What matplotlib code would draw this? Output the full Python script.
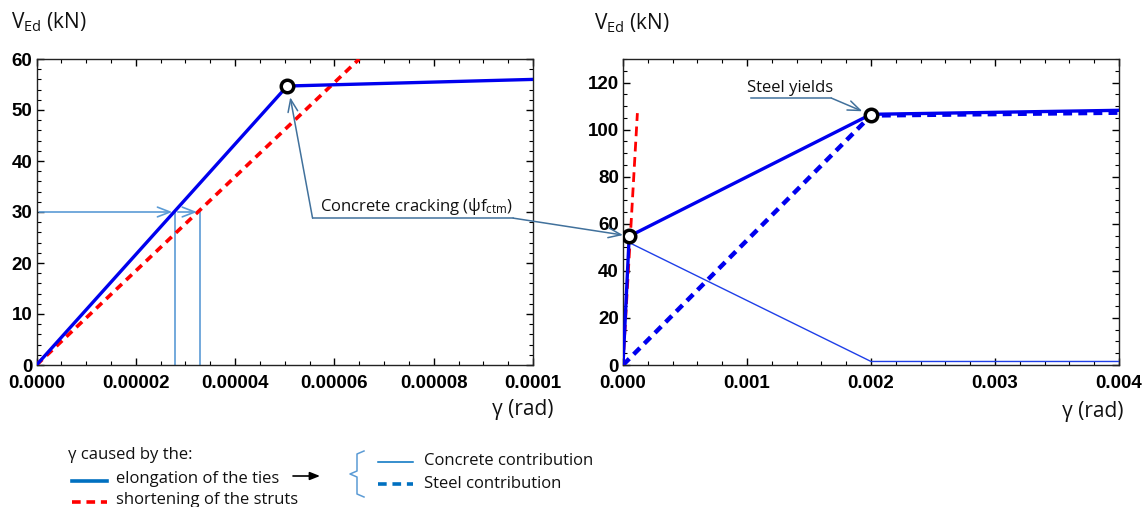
import matplotlib.pyplot as plt
from matplotlib.lines import Line2D
from matplotlib.patches import ConnectionPatch
from matplotlib.ticker import MultipleLocator

# ---- data ----
# left chart: first part of the curve, gamma up to 1e-4 rad
ties_x1 = [0.0, 0.0000505, 0.0001]
ties_y1 = [0.0, 54.7, 56.0]
struts_x1 = [0.0, 0.000065]
struts_y1 = [0.0, 60.0]
v_ref = 30.0
gam_ties_ref = 0.0000279
gam_struts_ref = 0.0000329
crack_x = 0.0000505
crack_v = 54.7

# right chart: full range, gamma up to 0.004 rad
ties_x2 = [0.0, 0.00005, 0.002, 0.004]
ties_y2 = [0.0, 54.7, 106.5, 108.2]
steel_x2 = [0.0, 0.002, 0.004]
steel_y2 = [0.0, 106.0, 107.2]
concrete_x2 = [0.0, 0.00005, 0.002, 0.004]
concrete_y2 = [0.0, 52.0, 1.5, 1.5]
struts_x2 = [0.0, 0.000116]
struts_y2 = [0.0, 107.0]
yield_x = 0.002
yield_v = 106.3

BLUE = "#0000EE"
RED = "#FF0000"
LEG_BLUE = "#0070C0"
LIGHT = "#5B9BD5"
ANN = "#41719C"

plt.rcParams["mathtext.fontset"] = "custom"
plt.rcParams["mathtext.rm"] = "Open Sans"
plt.rcParams["mathtext.it"] = "Open Sans:italic"

W, H = 1146, 507
fig = plt.figure(figsize=(W / 100, H / 100), dpi=100)


def fxy(px, py):
    return px / W, 1 - py / H


ax1 = fig.add_axes([36.5 / W, 142 / H, 496.5 / W, 306 / H])
ax2 = fig.add_axes([623 / W, 142 / H, 496 / W, 306 / H])

for ax in (ax1, ax2):
    ax.tick_params(which="both", direction="in", top=True, right=True)
    ax.tick_params(which="major", length=5, width=1)
    ax.tick_params(which="minor", length=3, width=0.8)
    ax.tick_params(axis="x", pad=7)
    ax.tick_params(axis="y", pad=3)
    for s in ax.spines.values():
        s.set_linewidth(1.0)
        s.set_color("#222222")

tick_kw = dict(fontweight="bold", family="Liberation Sans", fontsize=13.5)

# ---- left chart ----
ax1.plot(struts_x1, struts_y1, color=RED, lw=2.6, ls=(0, (2.2, 1.6)), zorder=3)
ax1.plot(ties_x1, ties_y1, color=BLUE, lw=2.4, zorder=4)
ax1.plot([crack_x], [crack_v], "o", ms=9, mfc="white", mec="black", mew=2.5, zorder=6)
ax1.annotate("", xy=(gam_ties_ref, v_ref), xytext=(0, v_ref),
             arrowprops=dict(arrowstyle="->,head_length=0.9,head_width=0.35", color=LIGHT, lw=1.2))
ax1.annotate("", xy=(gam_struts_ref, v_ref), xytext=(gam_ties_ref, v_ref),
             arrowprops=dict(arrowstyle="->,head_length=0.9,head_width=0.35", color=LIGHT, lw=1.2))
ax1.plot([gam_ties_ref, gam_ties_ref], [0, v_ref], color=LIGHT, lw=1.2)
ax1.plot([gam_struts_ref, gam_struts_ref], [0, v_ref], color=LIGHT, lw=1.2)

ax1.set_xlim(0, 0.0001)
ax1.set_ylim(0, 60)
ax1.xaxis.set_minor_locator(MultipleLocator(0.000005))
ax1.yaxis.set_minor_locator(MultipleLocator(2))
ax1.set_xticks([0, 0.00002, 0.00004, 0.00006, 0.00008, 0.0001])
ax1.set_xticklabels(["0.0000", "0.00002", "0.00004", "0.00006", "0.00008", "0.0001"], **tick_kw)
ax1.set_yticks([0, 10, 20, 30, 40, 50, 60])
ax1.set_yticklabels(["0", "10", "20", "30", "40", "50", "60"], **tick_kw)

# ---- right chart ----
ax2.plot(concrete_x2, concrete_y2, color="#1f3fe8", lw=1.0, zorder=3)
ax2.plot(steel_x2, steel_y2, color=BLUE, lw=3.2, ls=(0, (2.0, 1.4)), zorder=3)
ax2.plot(struts_x2, struts_y2, color=RED, lw=2.0, ls=(0, (3.5, 2)), zorder=4)
ax2.plot(ties_x2, ties_y2, color=BLUE, lw=2.4, zorder=4)
ax2.plot([ties_x2[1], yield_x], [ties_y2[1], yield_v], "o", ms=9, mfc="white",
         mec="black", mew=2.5, zorder=6)

ax2.set_xlim(0, 0.004)
ax2.set_ylim(0, 130)
ax2.xaxis.set_minor_locator(MultipleLocator(0.0002))
ax2.yaxis.set_minor_locator(MultipleLocator(5))
ax2.set_xticks([0, 0.001, 0.002, 0.003, 0.004])
ax2.set_xticklabels(["0.000", "0.001", "0.002", "0.003", "0.004"], **tick_kw)
ax2.set_yticks([0, 20, 40, 60, 80, 100, 120])
ax2.set_yticklabels(["0", "20", "40", "60", "80", "100", "120"], **tick_kw)

# ---- axis titles ----
lab_kw = dict(fontsize=15, family="Open Sans", color="#111111")
fig.text(*fxy(11, 22), r"V$_{\mathrm{Ed}}$ (kN)", ha="left", va="center", **lab_kw)
fig.text(*fxy(594, 23), r"V$_{\mathrm{Ed}}$ (kN)", ha="left", va="center", **lab_kw)
fig.text(*fxy(553, 409), "γ (rad)", ha="right", va="center", **lab_kw)
fig.text(*fxy(1123, 411), "γ (rad)", ha="right", va="center", **lab_kw)

# ---- annotations ----
ann_kw = dict(fontsize=12, family="Open Sans", color="#111111")
ax1.text(0.0000572, 31.0, r"Concrete cracking (ψf$_{\mathrm{ctm}}$)", ha="left",
         va="center", **ann_kw)
ax1.annotate("", xy=(0.0000511, 52.5), xytext=(0.0000556, 28.8),
             arrowprops=dict(arrowstyle="->,head_length=0.9,head_width=0.35", color=ANN,
                             lw=1.1, shrinkA=0, shrinkB=0))
ax1.plot([0.0000556, 0.000096], [28.8, 28.8], color=ANN, lw=1.1, clip_on=False)
con = ConnectionPatch(xyA=(0.000096, 28.8), coordsA=ax1.transData,
                      xyB=(0.0, 55.2), coordsB=ax2.transData,
                      arrowstyle="->,head_length=0.9,head_width=0.35", color=ANN, lw=1.1,
                      shrinkA=0, shrinkB=0)
fig.add_artist(con)

ax2.text(0.00100, 117.7, "Steel yields", ha="left", va="center", **ann_kw)
ax2.plot([0.00103, 0.00168], [113.4, 113.4], color=ANN, lw=1.1, clip_on=False)
ax2.annotate("", xy=(0.00193, 107.8), xytext=(0.00168, 113.4),
             arrowprops=dict(arrowstyle="->,head_length=0.9,head_width=0.35", color=ANN,
                             lw=1.1, shrinkA=0, shrinkB=0))

# ---- legend (drawn by hand) ----
leg_kw = dict(fontsize=12, family="Open Sans", color="#111111", va="center", ha="left")


def fig_line(xs, ys, **kw):
    pts = [fxy(x, y) for x, y in zip(xs, ys)]
    fig.add_artist(Line2D([p[0] for p in pts], [p[1] for p in pts],
                          transform=fig.transFigure, **kw))


fig.text(*fxy(68, 455), "γ caused by the:", **leg_kw)
fig_line([72, 107], [481, 481], color=LEG_BLUE, lw=2.6)
fig.text(*fxy(116, 479), "elongation of the ties", **leg_kw)
fig.add_artist(ConnectionPatch(xyA=fxy(293, 476), xyB=fxy(320, 476), coordsA="figure fraction",
                               coordsB="figure fraction", arrowstyle="-|>,head_length=0.5,head_width=0.2",
                               color="black", lw=1.2, mutation_scale=12))
fig_line([72, 107], [502, 502], color=RED, lw=2.6, ls=(0, (2.4, 1.6)))
fig.text(*fxy(116, 500), "shortening of the struts", **leg_kw)

fig_line([364, 357, 357, 350, 357, 357, 364], [451, 454, 471, 474, 477, 494, 497], color=LIGHT, lw=1.1)
fig_line([378, 413], [462, 462], color=LEG_BLUE, lw=1.1)
fig.text(*fxy(424, 461), "Concrete contribution", **leg_kw)
fig_line([378, 413], [484, 484], color=LEG_BLUE, lw=2.6, ls=(0, (2.4, 1.6)))
fig.text(*fxy(424, 484), "Steel contribution", **leg_kw)

fig.savefig("out.png", dpi=100)
